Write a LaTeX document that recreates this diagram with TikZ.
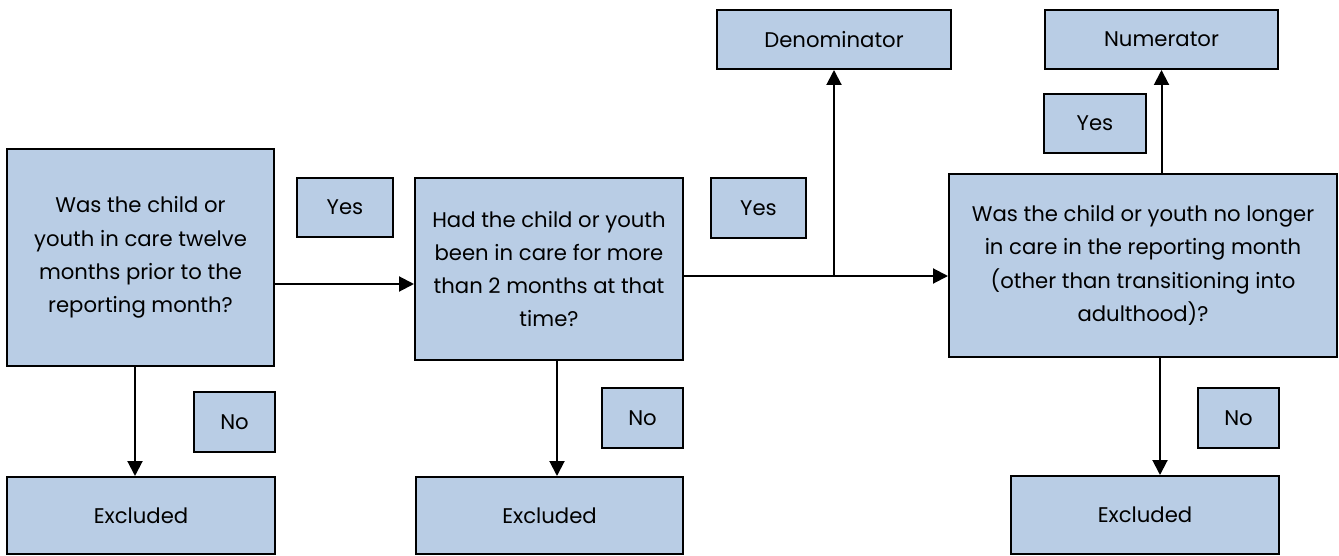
\documentclass[tikz,border=0pt]{standalone}
\usepackage{fontspec}
\setmainfont{Poppins}
\usetikzlibrary{arrows.meta}
\definecolor{boxblue}{HTML}{B9CDE5}

\begin{document}
\begin{tikzpicture}[x=0.5pt,y=-0.5pt,
   box/.style={draw,line width=1pt,fill=boxblue,inner sep=0pt,align=center,
      font=\fontsize{10.6}{16.6}\selectfont},
   arr/.style={line width=1pt,-{Triangle[length=7.5pt,width=7.5pt]}}]
   \useasboundingbox (0,0) rectangle (1339,556);
   % questions
   \node[box,minimum width=133.5pt,minimum height=108.5pt] (q1) at (140.5,257.5)
      {Was the child or\\youth in care twelve\\months prior to the\\reporting month?};
   \node[box,minimum width=134pt,minimum height=91pt] (q2) at (549,269)
      {Had the child or youth\\been in care for more\\than 2 months at that\\time?};
   \node[box,minimum width=194pt,minimum height=91.5pt] (q3) at (1143,265.5)
      {Was the child or youth no longer\\in care in the reporting month\\(other than transitioning into\\adulthood)?};
   % results
   \node[box,minimum width=117pt,minimum height=29.5pt] (den) at (834,39.5) {Denominator};
   \node[box,minimum width=116.5pt,minimum height=29.5pt] (num) at (1161.5,39.5) {Numerator};
   \node[box,minimum width=134pt,minimum height=38.5pt] (ex1) at (141,515.5) {Excluded};
   \node[box,minimum width=133.5pt,minimum height=38.5pt] (ex2) at (549.5,515.5) {Excluded};
   \node[box,minimum width=134pt,minimum height=39pt] (ex3) at (1145,515) {Excluded};
   % labels
   \node[box,minimum width=48pt,minimum height=29.5pt] (yes1) at (345,207.5) {Yes};
   \node[box,minimum width=47.5pt,minimum height=30pt] (yes2) at (758.5,208) {Yes};
   \node[box,minimum width=51pt,minimum height=29.5pt] (yes3) at (1095,123.5) {Yes};
   \node[box,minimum width=40.5pt,minimum height=30pt] (no1) at (234.5,422) {No};
   \node[box,minimum width=40.5pt,minimum height=30pt] (no2) at (642.5,418) {No};
   \node[box,minimum width=40.5pt,minimum height=30pt] (no3) at (1238.5,418) {No};
   % connectors
   \coordinate (r1) at (274,284);
   \coordinate (r2) at (834,276);
   \coordinate (d1) at (135,0);
   \coordinate (d2) at (557,0);
   \coordinate (d3) at (1160,0);
   \draw[arr] (q1.east |- r1) -- (q2.west |- r1);
   \draw[arr] (q2.east |- r2) -- (q3.west |- r2);
   \draw[arr] (r2) -- (den.south);
   \draw[arr] (num.south |- q3.north) -- (num.south);
   \draw[arr] (q1.south -| d1) -- (ex1.north -| d1);
   \draw[arr] (q2.south -| d2) -- (ex2.north -| d2);
   \draw[arr] (q3.south -| d3) -- (ex3.north -| d3);
\end{tikzpicture}
\end{document}
